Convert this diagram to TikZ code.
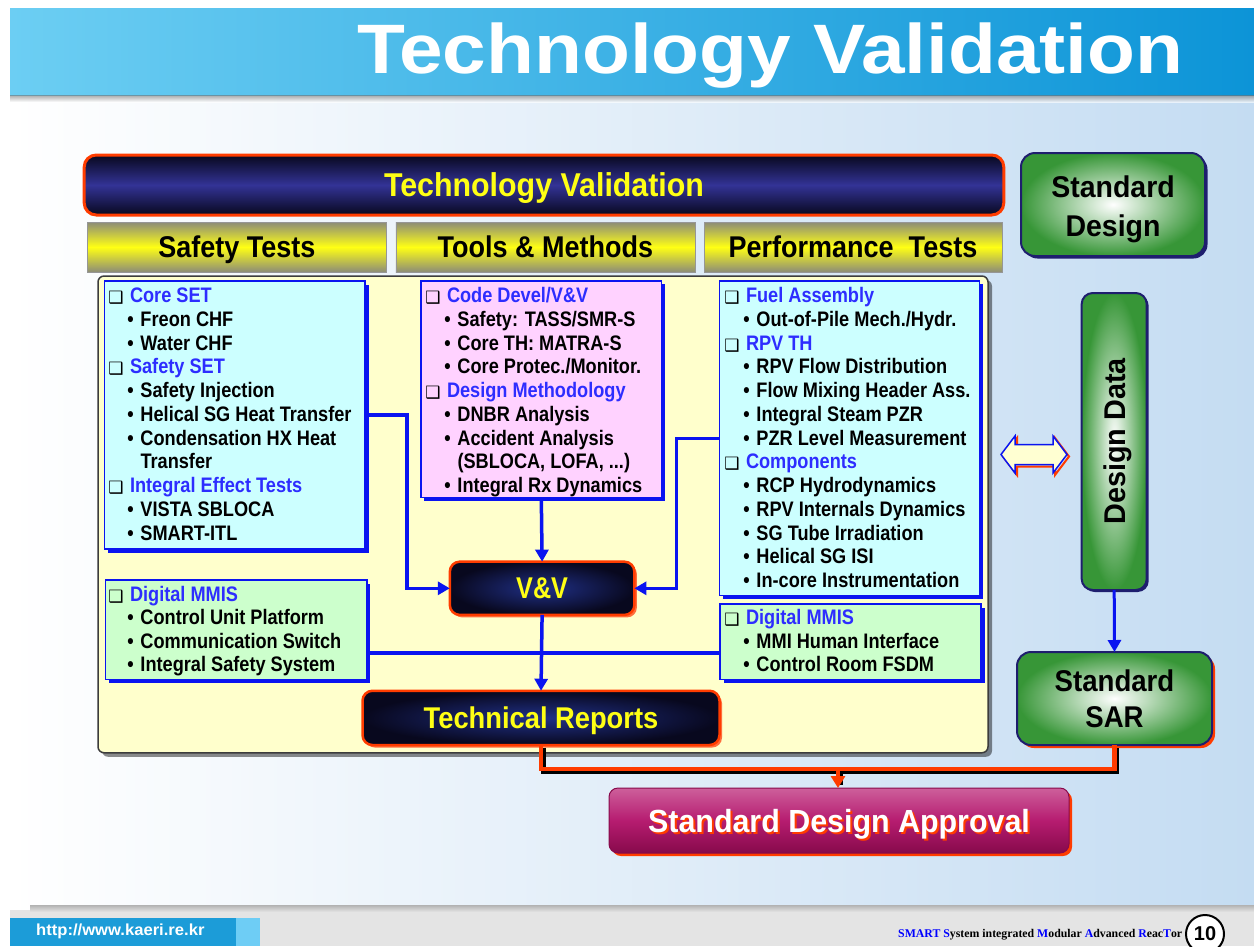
\documentclass[tikz,border=0pt]{standalone}
\usepackage{graphicx}
\usepackage{fontspec}
\setmainfont{Liberation Sans}[FakeStretch=0.865]
\newfontfamily\wfont{Liberation Sans}
\newfontfamily\djv{DejaVu Sans}
\newfontfamily\srf{Liberation Serif}
\usetikzlibrary{shadows,arrows.meta}
\definecolor{hblue}{RGB}{45,45,255}
\definecolor{lblue}{RGB}{10,20,240}
\definecolor{cyanf}{RGB}{204,255,255}
\definecolor{pinkf}{RGB}{255,210,255}
\definecolor{greenf}{RGB}{204,255,204}
\definecolor{panelf}{RGB}{255,255,204}
\definecolor{hred}{RGB}{255,60,0}
\definecolor{navy}{RGB}{51,51,150}
\definecolor{dnavy}{RGB}{8,8,30}
\definecolor{yel}{RGB}{255,255,20}
\definecolor{ggreen}{RGB}{55,150,55}
\definecolor{gborder}{RGB}{30,30,110}
\definecolor{colgray}{RGB}{140,140,120}
\definecolor{banL}{RGB}{108,206,243}
\definecolor{banR}{RGB}{12,148,215}
\definecolor{pnlR}{RGB}{196,220,242}
\definecolor{footg}{RGB}{228,228,228}
\definecolor{urlb}{RGB}{28,156,216}
\definecolor{urll}{RGB}{110,205,245}
\definecolor{magT}{RGB}{205,95,155}
\definecolor{magM}{RGB}{182,28,112}
\definecolor{magB}{RGB}{135,10,75}
\definecolor{vvin}{RGB}{32,48,135}
\definecolor{dblf}{RGB}{255,255,210}

\newcommand\bigtxt[3]{\scalebox{#2}[1]{\wfont\bfseries\fontsize{#1}{#1}\selectfont #3}}
\newcommand\tvhdr[1]{\llap{\raisebox{-1pt}{\djv\mdseries\fontsize{17}{17}\selectfont ❑}\hspace{6.5pt}}\textcolor{hblue}{#1}}
\newcommand\tvitm[1]{\hspace*{10.5pt}\llap{•\hspace{6.8pt}}#1}
\newcommand\tvcnt[1]{\hspace*{10.5pt}#1}
\newcommand\putlines[5]{\foreach \t [count=\i] in {#5} {\node[txt, anchor=base west] (#1\i) at (#2, {#3+#4*(\i-1)}) {\t};}}

\begin{document}
\begin{tikzpicture}[x=1pt,y=-1pt,
  txt/.style={inner sep=0pt, outer sep=0pt, font=\bfseries\fontsize{21}{23}\selectfont},
  panel/.style={draw={rgb,255:red,60;green,60;blue,60}, line width=1.5pt, fill=panelf, rounded corners=6pt,
    drop shadow={shadow xshift=4pt, shadow yshift=-4pt, fill=black, opacity=0.45}},
  cbox/.style={draw=lblue, line width=1.5pt, inner sep=0pt, outer sep=0pt,
    general shadow={fill=lblue, shadow xshift=3.5pt, shadow yshift=-3.5pt}},
  hbar/.style={rounded corners=12pt, draw=hred, line width=3pt, top color=dnavy, bottom color=dnavy, middle color=navy,
    text=yel, inner sep=0pt, outer sep=0pt},
  colhdr/.style={draw={rgb,255:red,150;green,150;blue,150}, line width=0.8pt, top color=colgray, bottom color=colgray,
    middle color=yel, inner sep=0pt, outer sep=0pt, text=black},
  darkbox/.style={rounded corners=10pt, inner color=vvin, outer color=dnavy, draw=hred, line width=2.5pt,
    text=yel, inner sep=0pt, outer sep=0pt,
    general shadow={fill={rgb,255:red,255;green,110;blue,60}, shadow xshift=2.5pt, shadow yshift=-2.5pt}},
  gbox/.style={rounded corners=14pt, draw=gborder, line width=2pt, inner color=white, outer color=ggreen,
    inner sep=0pt, outer sep=0pt},
  barrow/.style={draw=lblue, line width=3.5pt, -{Triangle[length=12pt,width=13pt]}},
  bline/.style={draw=lblue, line width=3.5pt},
  rline/.style={draw=hred, line width=4.5pt},
  rshad/.style={draw=black, line width=4.5pt, transform canvas={xshift=2.5pt, yshift=-2.5pt}},
]
\useasboundingbox (0,0) rectangle (1254,946);
\fill[white] (0,0) rectangle (1254,946);
% slide background
\shade[left color=white, right color=pnlR] (10,95) rectangle (1254,912);
\fill[footg] (10,910) rectangle (1254,946);
\shade[top color=gray!60, bottom color=footg] (30,905) rectangle (1254,912);
\fill[urlb] (10,918) rectangle (236,946);
\fill[urll] (236,918) rectangle (260,946);
\node[anchor=west, text=white, inner sep=0pt] (url) at (36,931)
  {\scalebox{1.2}[1]{\bfseries\fontsize{16}{16}\selectfont http://www.kaeri.re.kr}};
\node[anchor=west, inner sep=0pt] (smart) at (898,935)
  {\resizebox{284pt}{!}{\srf\bfseries\fontsize{10}{10}\selectfont\textcolor{blue}{SMART} \textcolor{blue}{S}ystem integrated \textcolor{blue}{M}odular \textcolor{blue}{A}dvanced \textcolor{blue}{R}eac\textcolor{blue}{T}or}};
\node[circle, draw=black, line width=2pt, fill=white, minimum size=38pt, inner sep=0pt] (pg) at (1205,934)
  {\bigtxt{20}{1}{10}};

% banner
\shade[left color=banL, right color=banR] (10,8) rectangle (1254,95);
\shade[top color=gray!90!black, bottom color=white, opacity=0.6] (10,95) rectangle (1254,102);
\node[anchor=base west, inner sep=0pt, text=white] (title) at (357,73)
  {\bigtxt{70}{1.12}{Technology Validation}};

% main header and column headers
\node[hbar, minimum width=919.6pt, minimum height=60pt, text height=23.5pt, text depth=0pt] (tv) at (544,185)
  {\bigtxt{33}{0.92}{Technology Validation}};
\node[colhdr, minimum width=298.3pt, minimum height=50pt, text height=21.5pt, text depth=0pt] (c1) at (236.9,247)
  {\bigtxt{30}{0.9}{Safety Tests}};
\node[colhdr, minimum width=299pt, minimum height=50pt, text height=21.5pt, text depth=0pt] (c2) at (545.4,247)
  {\bigtxt{30}{0.9}{Tools \& Methods}};
\node[colhdr, minimum width=298pt, minimum height=50pt, text height=21.5pt, text depth=0pt] (c3) at (853,247)
  {\bigtxt{30}{0.9}{Performance~~Tests}};

% yellow panel
\node[panel, minimum width=890pt, minimum height=476.7pt, inner sep=0pt, outer sep=0pt] (pnl) at (543,514.4) {};

% content boxes
\node[cbox, fill=cyanf, minimum width=260.7pt, minimum height=268pt] (lbox) at (234.7,415) {};
\node[cbox, fill=pinkf, minimum width=240.7pt, minimum height=216.7pt] (pbox) at (541.3,389.3) {};
\node[cbox, fill=cyanf, minimum width=260pt, minimum height=314.7pt] (rbox) at (849.3,438.3) {};
\node[cbox, fill=greenf, minimum width=261.4pt, minimum height=99.3pt] (lg) at (236.1,629.7) {};
\node[cbox, fill=greenf, minimum width=261pt, minimum height=75.3pt] (rg) at (850.5,641.7) {};

\putlines{L}{130}{302.5}{23.75}{\tvhdr{Core SET}, \tvitm{Freon CHF}, \tvitm{Water CHF}, \tvhdr{Safety SET},
  \tvitm{Safety Injection}, \tvitm{Helical SG Heat Transfer}, \tvitm{Condensation HX Heat}, \tvcnt{Transfer},
  \tvhdr{Integral Effect Tests}, \tvitm{VISTA SBLOCA}, \tvitm{SMART-ITL}}
\putlines{P}{447}{302.5}{23.75}{\tvhdr{Code Devel/V\&V}, \tvitm{Safety: TASS/SMR-S}, \tvitm{Core TH: MATRA-S},
  \tvitm{Core Protec./Monitor.}, \tvhdr{Design Methodology}, \tvitm{DNBR Analysis}, \tvitm{Accident Analysis},
  {\tvcnt{(SBLOCA, LOFA, ...)}}, \tvitm{Integral Rx Dynamics}}
\putlines{R}{746}{302.5}{23.75}{\tvhdr{Fuel Assembly}, \tvitm{Out-of-Pile Mech./Hydr.}, \tvhdr{RPV TH},
  \tvitm{RPV Flow Distribution}, \tvitm{Flow Mixing Header Ass.}, \tvitm{Integral Steam PZR},
  \tvitm{PZR Level Measurement}, \tvhdr{Components}, \tvitm{RCP Hydrodynamics}, \tvitm{RPV Internals Dynamics},
  \tvitm{SG Tube Irradiation}, \tvitm{Helical SG ISI}, \tvitm{In-core Instrumentation}}
\putlines{G}{130}{601.5}{23.4}{\tvhdr{Digital MMIS}, \tvitm{Control Unit Platform}, \tvitm{Communication Switch},
  \tvitm{Integral Safety System}}
\putlines{H}{746}{624.5}{23.7}{\tvhdr{Digital MMIS}, \tvitm{MMI Human Interface}, \tvitm{Control Room FSDM}}

% V&V and technical reports
\node[darkbox, minimum width=184.6pt, minimum height=53.3pt, text height=21.3pt, text depth=0pt] (vv) at (542.1,588.3)
  {\bigtxt{30}{0.84}{V\&V}};
\node[darkbox, minimum width=357pt, minimum height=54.3pt, text height=21.3pt, text depth=0pt] (tr) at (541,717.9)
  {\bigtxt{30}{0.91}{Technical Reports}};

% blue connectors
\coordinate (ly) at (0,653);
\draw[bline] (lg.east |- ly) -- (rg.west |- ly);
\draw[barrow] (lbox.east) -- ++(42,0) |- (vv.west);
\draw[barrow] (rbox.west) -- ++(-43,0) |- (vv.east);
\draw[barrow] (pbox.south) -- (vv.north);
\draw[barrow] (vv.south) -- (tr.north);

% right column
\node[gbox, minimum width=184pt, minimum height=103pt,
  general shadow={fill=gborder, shadow xshift=2.5pt, shadow yshift=-2.5pt}] (sd) at (1113,204.5) {};
\node[anchor=base, inner sep=0pt] (sd1) at (1113,197) {\bigtxt{30}{0.95}{Standard}};
\node[anchor=base, inner sep=0pt] (sd2) at (1113,236.5) {\bigtxt{30}{0.95}{Design}};
\node[gbox, rounded corners=11pt, minimum width=65pt, minimum height=297pt,
  general shadow={fill=gborder, shadow xshift=2pt, shadow yshift=-2pt}] (dd) at (1114.2,441.5) {};
\node[rotate=90, inner sep=0pt, text height=22pt, text depth=0pt] (ddt) at (dd.center) {\bigtxt{30}{0.96}{Design Data}};
\node[gbox, minimum width=195pt, minimum height=93pt,
  general shadow={fill=hred, shadow xshift=3pt, shadow yshift=-3pt}] (sar) at (1114.5,698.5) {};
\node[anchor=base, inner sep=0pt] (sar1) at (1114.5,691) {\bigtxt{30}{0.92}{Standard}};
\node[anchor=base, inner sep=0pt] (sar2) at (1114.5,727) {\bigtxt{30}{0.92}{SAR}};
\draw[barrow, line width=3pt] (dd.south) -- (sar.north);

% double arrow
\draw[hred, line width=2pt, xshift=2pt, yshift=-2pt]
  (1001,454.5) -- (1015,436) -- (1015,444.5) -- (1053,444.5) -- (1053,436) -- (1067,454.5) -- (1053,473)
  -- (1053,464.5) -- (1015,464.5) -- (1015,473) -- cycle;
\draw[lblue, line width=1.5pt, fill=dblf]
  (1001,454.5) -- (1015,436) -- (1015,444.5) -- (1053,444.5) -- (1053,436) -- (1067,454.5) -- (1053,473)
  -- (1053,464.5) -- (1015,464.5) -- (1015,473) -- cycle;

% approval
\node[rounded corners=9pt, top color=magT, bottom color=magB, middle color=magM, draw=magB, line width=1pt,
  minimum width=460pt, minimum height=65pt, inner sep=0pt, outer sep=0pt, text=white,
  text height=23pt, text depth=0pt,
  general shadow={fill=hred, shadow xshift=3pt, shadow yshift=-3pt}] (sda) at (839,820.5)
  {\rlap{\kern2pt\raisebox{-2pt}{\textcolor{hred}{\bigtxt{32}{0.95}{Standard Design Approval}}}}\bigtxt{32}{0.95}{Standard Design Approval}};

\coordinate (jn) at (838,769);
\draw[rshad] (tr.south) |- (sar.south |- jn) -- (sar.south);
\draw[rline] (tr.south) |- (sar.south |- jn) -- (sar.south);
\draw[rshad] (jn) -- ([yshift=6pt]jn |- sda.north);
\draw[rline, -{Triangle[length=12pt,width=14pt]}] (jn) -- (jn |- sda.north);
\end{tikzpicture}
\end{document}
